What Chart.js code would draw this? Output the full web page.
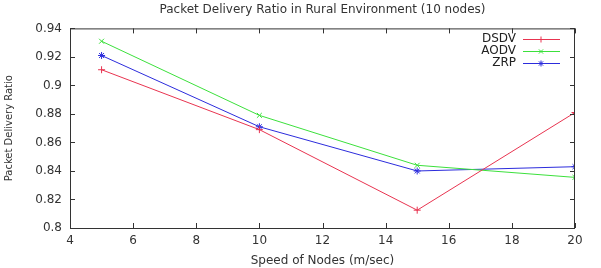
<!DOCTYPE html>
<html>
<head>
<meta charset="utf-8">
<script src="https://cdn.jsdelivr.net/npm/chart.js@4"></script>
<style>
  html, body { margin: 0; padding: 0; background: #fff; }
  #wrap { width: 601px; height: 268px; }
</style>
</head>
<body>
<div id="wrap"><canvas id="chart" width="601" height="268"></canvas></div>
<script>
// --- data ---
const speeds = [5, 10, 15, 20];
const dsdv = [0.911, 0.869, 0.8125, 0.881];
const aodv = [0.931, 0.879, 0.844, 0.8355];
const zrp  = [0.921, 0.871, 0.840, 0.843];
const seriesNames = ['DSDV', 'AODV', 'ZRP'];
const xTicks = [4, 6, 8, 10, 12, 14, 16, 18, 20];
const yTicks = [0.8, 0.82, 0.84, 0.86, 0.88, 0.9, 0.92, 0.94];

const FONT = "'DejaVu Sans', sans-serif";
const AXIS = '#333';
const COLORS = ['#e83450', '#3ce03c', '#2c2cdc'];
const MARKERS = ['cross', 'crossRot', 'star'];

const pts = vals => vals.map((v, i) => ({ x: speeds[i], y: v }));

// gnuplot-style frame: inward ticks, mirrored on top/right
const frame = {
  id: 'frame',
  afterDraw(chart) {
    const { ctx, chartArea: a, scales: { x, y } } = chart;
    ctx.save();
    ctx.strokeStyle = AXIS;
    ctx.lineWidth = 1;
    ctx.strokeRect(a.left + 0.5, a.top + 0.5, a.right - a.left - 1, a.bottom - a.top);
    const t = 5;
    ctx.beginPath();
    xTicks.forEach(v => {
      const px = Math.round(x.getPixelForValue(v)) + 0.5;
      ctx.moveTo(px, a.bottom); ctx.lineTo(px, a.bottom - t);
      ctx.moveTo(px, a.top); ctx.lineTo(px, a.top + t);
    });
    yTicks.forEach(v => {
      const py = Math.round(y.getPixelForValue(v)) + 0.5;
      ctx.moveTo(a.left, py); ctx.lineTo(a.left + t, py);
      ctx.moveTo(a.right, py); ctx.lineTo(a.right - t, py);
    });
    ctx.stroke();

    // legend, gnuplot style (text then sample line)
    ctx.font = '12px ' + FONT;
    ctx.textAlign = 'right';
    ctx.textBaseline = 'middle';
    seriesNames.forEach((name, i) => {
      const ly = 39 + i * 12;
      ctx.fillStyle = '#222';
      ctx.fillText(name, 516, ly);
      ctx.strokeStyle = COLORS[i];
      ctx.beginPath();
      ctx.moveTo(523, ly + 0.5); ctx.lineTo(560, ly + 0.5);
      ctx.stroke();
      Chart.helpers.drawPoint(ctx, { pointStyle: MARKERS[i], radius: 3, borderWidth: 1 }, 541, ly + 0.5);
    });
    ctx.restore();
  }
};

const mk = (label, vals, i) => ({
  label,
  data: pts(vals),
  borderColor: COLORS[i],
  backgroundColor: COLORS[i],
  borderWidth: 1,
  pointStyle: MARKERS[i],
  pointRadius: 3.5,
  pointBorderWidth: 1,
  tension: 0
});

new Chart(document.getElementById('chart'), {
  type: 'line',
  data: {
    datasets: [mk('DSDV', dsdv, 0), mk('AODV', aodv, 1), mk('ZRP', zrp, 2)]
  },
  options: {
    responsive: false,
    animation: false,
    layout: { padding: { left: 3, right: 26, top: 0, bottom: 0 } },
    plugins: {
      legend: { display: false },
      tooltip: { enabled: false },
      title: {
        display: true,
        fullSize: false,
        text: 'Packet Delivery Ratio in Rural Environment (10 nodes)',
        color: '#333',
        font: { family: FONT, size: 12, weight: 'normal' },
        padding: { top: 3, bottom: 11 }
      }
    },
    scales: {
      x: {
        type: 'linear',
        min: 4, max: 20,
        afterBuildTicks: s => { s.ticks = xTicks.map(v => ({ value: v })); },
        afterFit: s => { s.height = 40; },
        grid: { display: false, drawTicks: false },
        border: { display: false },
        ticks: { color: AXIS, font: { family: FONT, size: 12 }, padding: 6 },
        title: {
          display: true, text: 'Speed of Nodes (m/sec)', color: '#333',
          font: { family: FONT, size: 12 }, padding: { top: 2, bottom: 0 }
        }
      },
      y: {
        min: 0.8, max: 0.94,
        afterBuildTicks: s => { s.ticks = yTicks.map(v => ({ value: v })); },
        afterFit: s => { s.width = 67; },
        grid: { display: false, drawTicks: false },
        border: { display: false },
        ticks: {
          color: AXIS, font: { family: FONT, size: 12 }, padding: 8,
          callback: v => String(+v.toFixed(2))
        },
        title: {
          display: true, text: 'Packet Delivery Ratio', color: '#333',
          font: { family: FONT, size: 10 }, padding: { top: 0, bottom: 2 }
        }
      }
    }
  },
  plugins: [frame]
});
</script>
</body>
</html>
